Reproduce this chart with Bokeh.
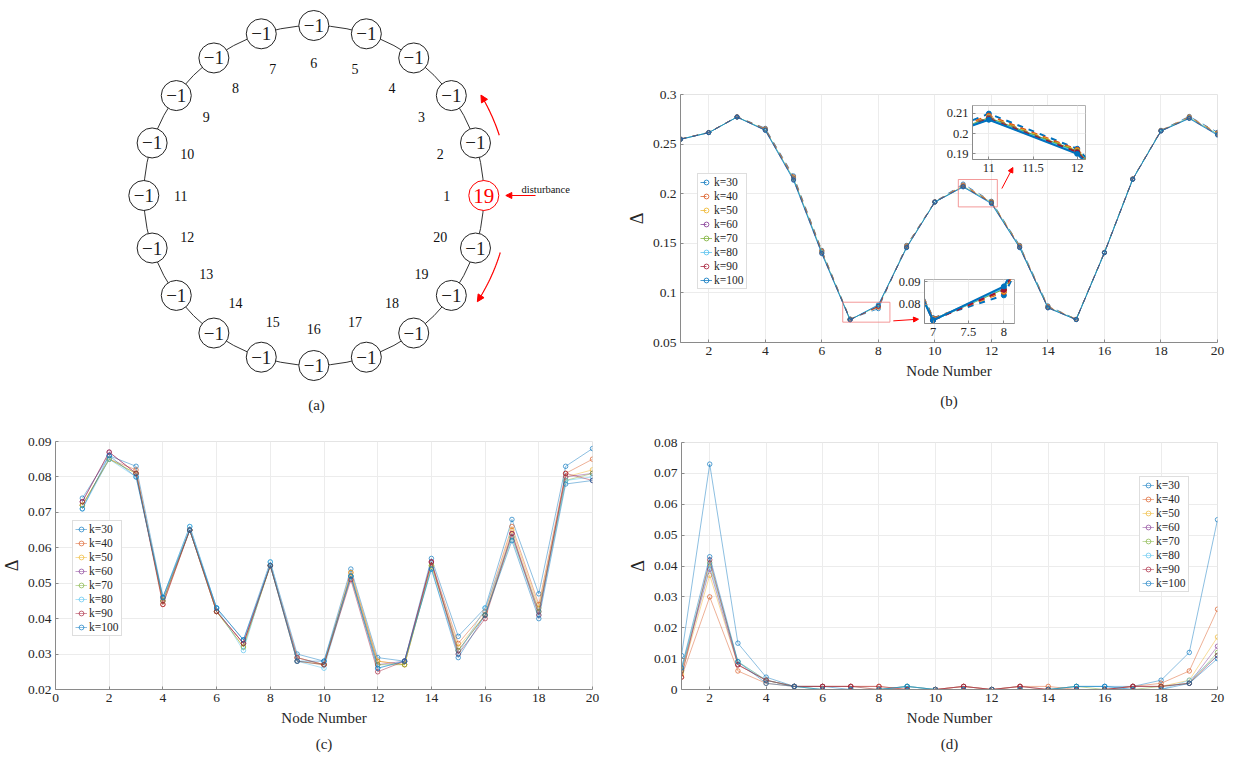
import math
from bokeh.plotting import figure
from bokeh.layouts import column
from bokeh.models import (Range1d, FixedTicker, CustomJSTickFormatter, BoxAnnotation,
                          Arrow, NormalHead, Title, ColumnDataSource)
from bokeh.core.properties import value
from bokeh.embed import file_html
from bokeh.resources import INLINE

# ---------------- data ----------------
nodes = list(range(1, 21))
k_labels = ["k=30", "k=40", "k=50", "k=60", "k=70", "k=80", "k=90", "k=100"]

# (a) ring: value held by node at position 1..20
ring_values = [19, -1, -1, -1, -1, -1, -1, -1, -1, -1,
               -1, -1, -1, -1, -1, -1, -1, -1, -1, -1]

# (b)
b_k30 = [0.2552, 0.2618, 0.2776, 0.2660, 0.2180, 0.1430, 0.0738, 0.0840, 0.1480, 0.1920,
         0.2098, 0.1925, 0.1480, 0.0870, 0.0735, 0.1410, 0.2150, 0.2640, 0.2780, 0.2620]
b_k40 = [0.2551, 0.2617, 0.2775, 0.2655, 0.2170, 0.1425, 0.0736, 0.0855, 0.1475, 0.1918,
         0.2088, 0.1920, 0.1475, 0.0865, 0.0734, 0.1409, 0.2149, 0.2638, 0.2776, 0.2615]
b_k50 = [0.2550, 0.2617, 0.2774, 0.2650, 0.2160, 0.1420, 0.0733, 0.0860, 0.1470, 0.1917,
         0.2082, 0.1915, 0.1470, 0.0860, 0.0733, 0.1408, 0.2148, 0.2636, 0.2772, 0.2610]
b_k60 = [0.2550, 0.2616, 0.2774, 0.2648, 0.2155, 0.1415, 0.0731, 0.0865, 0.1465, 0.1917,
         0.2078, 0.1910, 0.1465, 0.0858, 0.0732, 0.1407, 0.2147, 0.2635, 0.2768, 0.2605]
b_k70 = [0.2549, 0.2616, 0.2773, 0.2645, 0.2150, 0.1410, 0.0730, 0.0870, 0.1462, 0.1916,
         0.2075, 0.1912, 0.1462, 0.0855, 0.0732, 0.1406, 0.2146, 0.2634, 0.2765, 0.2602]
b_k80 = [0.2549, 0.2616, 0.2773, 0.2642, 0.2145, 0.1405, 0.0729, 0.0875, 0.1460, 0.1916,
         0.2070, 0.1905, 0.1460, 0.0852, 0.0731, 0.1406, 0.2146, 0.2633, 0.2762, 0.2598]
b_k90 = [0.2549, 0.2616, 0.2773, 0.2640, 0.2140, 0.1400, 0.0729, 0.0865, 0.1458, 0.1916,
         0.2072, 0.1908, 0.1458, 0.0850, 0.0731, 0.1405, 0.2145, 0.2632, 0.2760, 0.2595]
b_k100 = [0.2548, 0.2615, 0.2772, 0.2638, 0.2135, 0.1395, 0.0728, 0.0880, 0.1455, 0.1915,
          0.2068, 0.1900, 0.1455, 0.0848, 0.0730, 0.1404, 0.2145, 0.2631, 0.2758, 0.2590]
b_series = [b_k30, b_k40, b_k50, b_k60, b_k70, b_k80, b_k90, b_k100]

# (c)
c_k30 = [0.074, 0.086, 0.083, 0.046, 0.066, 0.043, 0.034, 0.056, 0.030, 0.028,
         0.054, 0.029, 0.028, 0.057, 0.035, 0.043, 0.068, 0.047, 0.083, 0.088]
c_k40 = [0.072, 0.085, 0.082, 0.044, 0.065, 0.042, 0.033, 0.055, 0.029, 0.027,
         0.053, 0.028, 0.027, 0.056, 0.033, 0.042, 0.066, 0.044, 0.081, 0.085]
c_k50 = [0.072, 0.085, 0.081, 0.045, 0.065, 0.042, 0.032, 0.055, 0.029, 0.027,
         0.053, 0.028, 0.027, 0.055, 0.032, 0.041, 0.065, 0.043, 0.080, 0.082]
c_k60 = [0.073, 0.087, 0.081, 0.045, 0.065, 0.042, 0.033, 0.055, 0.029, 0.027,
         0.052, 0.027, 0.028, 0.056, 0.031, 0.041, 0.064, 0.042, 0.080, 0.081]
c_k70 = [0.072, 0.085, 0.081, 0.045, 0.065, 0.042, 0.032, 0.055, 0.028, 0.027,
         0.052, 0.027, 0.027, 0.055, 0.031, 0.041, 0.063, 0.042, 0.079, 0.081]
c_k80 = [0.071, 0.085, 0.080, 0.046, 0.066, 0.043, 0.031, 0.056, 0.028, 0.026,
         0.052, 0.026, 0.028, 0.054, 0.030, 0.043, 0.063, 0.041, 0.079, 0.080]
c_k90 = [0.073, 0.087, 0.081, 0.044, 0.065, 0.042, 0.033, 0.055, 0.028, 0.027,
         0.051, 0.025, 0.028, 0.056, 0.030, 0.040, 0.064, 0.041, 0.081, 0.079]
c_k100 = [0.071, 0.086, 0.080, 0.046, 0.065, 0.043, 0.034, 0.055, 0.028, 0.028,
          0.052, 0.026, 0.028, 0.054, 0.029, 0.041, 0.062, 0.040, 0.078, 0.079]
c_series = [c_k30, c_k40, c_k50, c_k60, c_k70, c_k80, c_k90, c_k100]

# (d)
d_k30 = [0.011, 0.073, 0.015, 0.004, 0.001, 0.001, 0.000, 0.000, 0.001, 0.000,
         0.000, 0.000, 0.000, 0.000, 0.001, 0.001, 0.001, 0.003, 0.012, 0.055]
d_k40 = [0.004, 0.030, 0.006, 0.002, 0.001, 0.001, 0.001, 0.001, 0.000, 0.000,
         0.001, 0.000, 0.001, 0.001, 0.000, 0.000, 0.001, 0.002, 0.006, 0.026]
d_k50 = [0.005, 0.037, 0.008, 0.003, 0.001, 0.001, 0.001, 0.000, 0.000, 0.000,
         0.001, 0.000, 0.001, 0.000, 0.000, 0.000, 0.001, 0.001, 0.003, 0.017]
d_k60 = [0.006, 0.039, 0.008, 0.003, 0.001, 0.001, 0.001, 0.000, 0.000, 0.000,
         0.001, 0.000, 0.001, 0.000, 0.000, 0.000, 0.001, 0.001, 0.002, 0.014]
d_k70 = [0.006, 0.041, 0.009, 0.003, 0.001, 0.000, 0.000, 0.000, 0.001, 0.000,
         0.000, 0.000, 0.000, 0.000, 0.001, 0.000, 0.000, 0.001, 0.002, 0.012]
d_k80 = [0.007, 0.040, 0.009, 0.003, 0.001, 0.000, 0.000, 0.000, 0.001, 0.000,
         0.000, 0.000, 0.000, 0.000, 0.001, 0.001, 0.000, 0.000, 0.003, 0.011]
d_k90 = [0.004, 0.042, 0.008, 0.003, 0.001, 0.001, 0.001, 0.001, 0.000, 0.000,
         0.001, 0.000, 0.001, 0.000, 0.000, 0.000, 0.001, 0.001, 0.002, 0.011]
d_k100 = [0.007, 0.043, 0.009, 0.002, 0.001, 0.000, 0.000, 0.000, 0.001, 0.000,
          0.000, 0.000, 0.000, 0.000, 0.001, 0.001, 0.000, 0.000, 0.002, 0.010]
d_series = [d_k30, d_k40, d_k50, d_k60, d_k70, d_k80, d_k90, d_k100]

# tick labels
b_xticks = [2, 4, 6, 8, 10, 12, 14, 16, 18, 20]
b_yticks = [0.05, 0.1, 0.15, 0.2, 0.25, 0.3]
b1_xticks = [11, 11.5, 12]
b1_yticks = [0.19, 0.2, 0.21]
b2_xticks = [7, 7.5, 8]
b2_yticks = [0.08, 0.09]
c_xticks = [0, 2, 4, 6, 8, 10, 12, 14, 16, 18, 20]
c_yticks = [0.02, 0.03, 0.04, 0.05, 0.06, 0.07, 0.08, 0.09]
d_xticks = [2, 4, 6, 8, 10, 12, 14, 16, 18, 20]
d_yticks = [0, 0.01, 0.02, 0.03, 0.04, 0.05, 0.06, 0.07, 0.08]

# ---------------- styles ----------------
FONT = "Liberation Serif"
TXT = "#262626"
AXC = "#8a8a8a"
GRID = "#ececec"
COLORS = ["#0072BD", "#D95319", "#EDB120", "#7E2F8E", "#77AC30", "#4DBEEE", "#A2142F", "#0072BD"]
B_DASH = ["dashed", "dashed", "dashed", "dashed", "solid", "solid", "dashed", "solid"]
FMT = CustomJSTickFormatter(code="return parseFloat(tick.toFixed(6)).toString();")
ML, MR = 75, 14   # shared left/right borders (the column aligns them across children)


def panel(frame_left, frame_top, fw, fh, mt, mb, xr, yr, transparent=False, **kw):
    p = figure(width=ML + fw + MR, height=mt + fh + mb, frame_width=fw, frame_height=fh,
               min_border_left=ML, min_border_top=mt, min_border_right=MR, min_border_bottom=mb,
               x_range=Range1d(*xr), y_range=Range1d(*yr), toolbar_location=None,
               output_backend="svg", outline_line_color="#e4e4e4",
               background_fill_color="white",
               border_fill_color=None if transparent else "white", **kw)
    p.styles = {"position": "absolute", "left": f"{frame_left - ML}px", "top": f"{frame_top - mt}px"}
    return p


def style(p, xticks, yticks, tick_fs, lab_fs, xlabel=None, ylabel=None):
    xa, ya = p.xaxis[0], p.yaxis[0]
    xa.ticker = FixedTicker(ticks=xticks)
    ya.ticker = FixedTicker(ticks=yticks)
    p.xgrid[0].ticker = xa.ticker
    p.ygrid[0].ticker = ya.ticker
    p.grid.grid_line_color = GRID
    for ax in (xa, ya):
        ax.formatter = FMT
        ax.major_label_text_font = FONT
        ax.major_label_text_font_size = f"{tick_fs}px"
        ax.major_label_text_color = TXT
        ax.axis_line_color = AXC
        ax.major_tick_line_color = AXC
        ax.major_tick_in = 3
        ax.major_tick_out = 0
        ax.minor_tick_line_color = None
        ax.major_label_standoff = 4
        ax.axis_label_text_font = FONT
        ax.axis_label_text_font_size = f"{lab_fs}px"
        ax.axis_label_text_font_style = "normal"
        ax.axis_label_text_color = TXT
        ax.axis_label_standoff = 5
    ya.axis_label_text_font_size = "18px"
    ya.axis_label_standoff = 3
    if xlabel:
        xa.axis_label = xlabel
    if ylabel:
        ya.axis_label = ylabel


def style_legend(p, loc):
    lg = p.legend[0]
    lg.location = loc
    lg.label_text_font = FONT
    lg.label_text_font_size = "11.5px"
    lg.label_text_color = TXT
    lg.label_height = 12
    lg.glyph_height = 12
    lg.glyph_width = 12
    lg.label_standoff = 2
    lg.spacing = 2
    lg.padding = 2
    lg.margin = 0
    lg.border_line_color = "#bdbdbd"
    lg.background_fill_color = "white"
    lg.background_fill_alpha = 1


def add_title(p, text, offset, standoff):
    p.add_layout(Title(text=text, align="center", offset=offset, standoff=standoff,
                       text_font=FONT, text_font_size="15px", text_font_style="normal",
                       text_color=TXT), "below")


def light_series(p, series):
    for s, lab, col in zip(series, k_labels, COLORS):
        p.line(nodes, s, line_color=col, line_width=1, line_alpha=0.45, legend_label=lab)
        p.scatter(nodes, s, marker="circle", size=4.5, line_color=col, fill_color=None,
                  line_alpha=0.65, legend_label=lab)


# ---------------- (a) ring diagram ----------------
pa = panel(100, 0, 520, 420, 0, 0, (100, 620), (420, 0),
           x_axis_type=None, y_axis_type=None)
pa.outline_line_color = None
pa.grid.visible = False

CX, CY, R_NODE, R_LAB = 313.3, 195.0, 170.0, 133.0
ang = [math.radians((n - 1) * 18) for n in nodes]
node_x = [CX + R_NODE * math.cos(a) for a in ang]
node_y = [CY - R_NODE * math.sin(a) for a in ang]
lab_x = [CX + R_LAB * math.cos(a) for a in ang]
lab_y = [CY - R_LAB * math.sin(a) for a in ang]
node_col = ["red" if v > 0 else "#222222" for v in ring_values]
node_txt = [str(v).replace("-", "\u2212") for v in ring_values]
node_fs = ["21px" if v > 0 else "19px" for v in ring_values]

pa.circle(x=[CX], y=[CY], radius=R_NODE, fill_color=None, line_color="#333333", line_width=1)
src_a = ColumnDataSource(dict(x=node_x, y=node_y, t=node_txt, c=node_col, fs=node_fs,
                              lx=lab_x, ly=lab_y, lt=[str(n) for n in nodes]))
pa.circle(x="x", y="y", radius=15, source=src_a, fill_color="white", line_color="c", line_width=1)
pa.text(x="x", y="y", text="t", source=src_a, text_color="c", text_font=value(FONT),
        text_font_size="fs", text_align="center", text_baseline="middle")
pa.text(x="lx", y="ly", text="lt", source=src_a, text_color="#111111", text_font=value(FONT),
        text_font_size="14px", text_align="center", text_baseline="middle")


def red_arc(a0, a1, r=195.0, n=24):
    xs = [CX + r * math.cos(math.radians(a0 + (a1 - a0) * i / n)) for i in range(n + 1)]
    ys = [CY - r * math.sin(math.radians(a0 + (a1 - a0) * i / n)) for i in range(n + 1)]
    pa.line(xs[:-1], ys[:-1], line_color="red", line_width=1.2)
    pa.add_layout(Arrow(x_start=xs[-3], y_start=ys[-3], x_end=xs[-1], y_end=ys[-1],
                        line_color="red", line_width=1.2,
                        end=NormalHead(size=7, fill_color="red", line_color="red")))


red_arc(18, 31)
red_arc(-17, -33)
pa.add_layout(Arrow(x_start=535, y_start=CY, x_end=CX + R_NODE + 22, y_end=CY,
                    line_color="red", line_width=1.2,
                    end=NormalHead(size=6, fill_color="red", line_color="red")))
pa.text(x=[521], y=[189], text=["disturbance"], text_font=value(FONT), text_font_size="10.5px",
        text_align="left", text_baseline="middle", text_color="#111111")
pa.text(x=[316], y=[404], text=["(a)"], text_font=value(FONT), text_font_size="15px",
        text_align="center", text_baseline="middle", text_color=TXT)

# ---------------- (b) ----------------
pb = panel(680, 94, 537, 248, 14, 80, (1, 20), (0.05, 0.3))
style(pb, b_xticks, b_yticks, 13.5, 15, "Node Number", "\u0394")
for s, lab, col, dash in zip(b_series, k_labels, COLORS, B_DASH):
    pb.line(nodes, s, line_color=col, line_width=1, line_alpha=0.7, line_dash=dash, legend_label=lab)
    pb.scatter(nodes, s, marker="circle", size=4, line_color=col, fill_color=None,
               line_alpha=0.8, legend_label=lab)
style_legend(pb, (17, 53))
add_title(pb, "(b)", -13, 18)

# zoom boxes & arrows in (b)
pb.add_layout(BoxAnnotation(left=6.74, right=8.41, bottom=0.0705, top=0.0906, fill_color=None,
                            line_color="#f08080", line_alpha=0.8, line_width=1))
pb.add_layout(BoxAnnotation(left=10.83, right=12.21, bottom=0.1867, top=0.2143, fill_color=None,
                            line_color="#f08080", line_alpha=0.8, line_width=1))
pb.add_layout(Arrow(x_start=8.53, y_start=0.0718, x_end=9.42, y_end=0.0735, line_color="red",
                    line_width=1, end=NormalHead(size=5, fill_color="red", line_color="red")))
pb.add_layout(Arrow(x_start=12.37, y_start=0.2052, x_end=12.76, y_end=0.2264, line_color="red",
                    line_width=1, end=NormalHead(size=5, fill_color="red", line_color="red")))


def inset(fl, ft, fw, fh, xr, yr, xt, yt):
    p = panel(fl, ft, fw, fh, 4, 26, xr, yr, transparent=True)
    style(p, xt, yt, 12.5, 12)
    p.outline_line_color = "#b0b0b0"
    for s, col, dash in zip(b_series, COLORS, B_DASH):
        p.line(nodes, s, line_color=col, line_width=2, line_dash=dash)
        p.scatter(nodes, s, marker="circle", size=5, line_color=col, fill_color=col)
    return p


pb1 = inset(972, 105, 113, 54, (10.815, 12.094), (0.1872, 0.2138), b1_xticks, b1_yticks)
pb2 = inset(924, 279, 90, 44, (6.88, 8.15), (0.0714, 0.0911), b2_xticks, b2_yticks)

# ---------------- (c) ----------------
pc = panel(55, 441, 537, 248, 11, 69, (0, 20), (0.02, 0.09))
style(pc, c_xticks, c_yticks, 13.5, 15, "Node Number", "\u0394")
light_series(pc, c_series)
style_legend(pc, (17, 53))
add_title(pc, "(c)", -15, 10)

# ---------------- (d) ----------------
pd_ = panel(681, 442, 536, 247, 12, 69, (1, 20), (0, 0.08))
style(pd_, d_xticks, d_yticks, 13.5, 15, "Node Number", "\u0394")
light_series(pd_, d_series)
style_legend(pd_, (458, 97))
add_title(pd_, "(d)", -4, 10)

root = column(pa, pc, pb, pb1, pb2, pd_, width=1233, height=758)
root.styles = {"position": "relative"}
open("out.html", "w").write(file_html(root, INLINE))
